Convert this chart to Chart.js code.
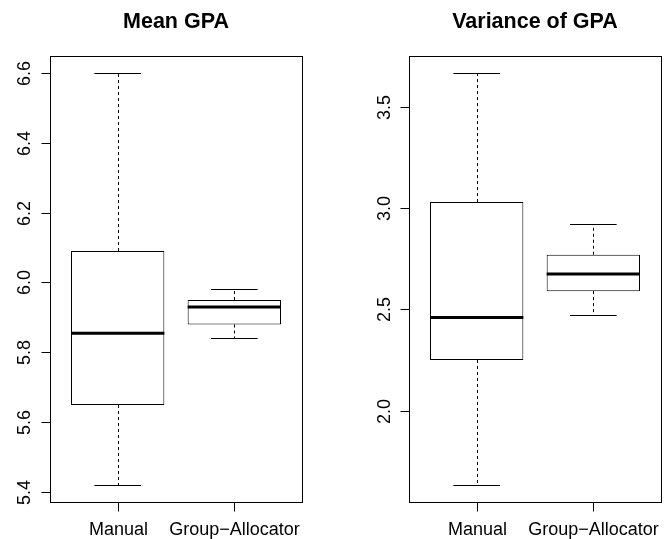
<!DOCTYPE html>
<html>
<head>
<meta charset="utf-8">
<script src="https://cdn.jsdelivr.net/npm/chart.js@4.4.1/dist/chart.umd.min.js"></script>
<style>
  body { margin: 0; background: #fff; }
  .panel { position: absolute; top: 0; height: 539px; }
</style>
</head>
<body>
<div class="panel" style="left:0;width:332px"><canvas id="meanChart"></canvas></div>
<div class="panel" style="left:332px;width:333px"><canvas id="varChart"></canvas></div>
<script>
const groups = ['Manual', 'Group\u2212Allocator'];
const xTicks = [1, 2];

// Mean GPA boxplot stats
const meanMin = [5.42, 5.84];
const meanQ1 = [5.65, 5.88];
const meanMedian = [5.855, 5.93];
const meanQ3 = [6.09, 5.95];
const meanMax = [6.6, 5.98];
const meanTicks = [5.4, 5.6, 5.8, 6.0, 6.2, 6.4, 6.6];

// Variance of GPA boxplot stats
const varMin = [1.63, 2.47];
const varQ1 = [2.25, 2.59];
const varMedian = [2.46, 2.675];
const varQ3 = [3.03, 2.77];
const varMax = [3.67, 2.92];
const varTicks = [2.0, 2.5, 3.0, 3.5];

const FONT = '"Liberation Sans", Arial, Helvetica, sans-serif';

// R-like range: data range padded by 4%
const padRange = (lo, hi) => {
  const d = (hi - lo) * 0.04;
  return [lo - d, hi + d];
};

const rBoxPlot = {
  id: 'rBoxPlot',
  afterDatasetsDraw(chart, args, opts) {
    const ctx = chart.ctx;
    const xs = chart.scales.x, ys = chart.scales.y;
    const area = chart.chartArea;
    const s = opts.stats;
    ctx.save();
    ctx.strokeStyle = '#000';
    ctx.lineWidth = 1;

    for (let i = 0; i < groups.length; i++) {
      const cx = Math.round(xs.getPixelForValue(i + 1)) + 0.5;
      const capL = xs.getPixelForValue(i + 1 - 0.2);
      const capR = xs.getPixelForValue(i + 1 + 0.2);
      const boxL = xs.getPixelForValue(i + 1 - 0.4);
      const boxR = xs.getPixelForValue(i + 1 + 0.4);
      const yMin = Math.round(ys.getPixelForValue(s.min[i])) + 0.5;
      const yMax = Math.round(ys.getPixelForValue(s.max[i])) + 0.5;
      const yQ1 = ys.getPixelForValue(s.q1[i]);
      const yQ3 = ys.getPixelForValue(s.q3[i]);
      const yMed = ys.getPixelForValue(s.median[i]);

      // whiskers
      ctx.setLineDash([3, 3]);
      ctx.beginPath();
      ctx.moveTo(cx, yQ3); ctx.lineTo(cx, yMax);
      ctx.moveTo(cx, yQ1); ctx.lineTo(cx, yMin);
      ctx.stroke();
      ctx.setLineDash([]);

      // caps
      ctx.beginPath();
      ctx.moveTo(capL, yMax); ctx.lineTo(capR, yMax);
      ctx.moveTo(capL, yMin); ctx.lineTo(capR, yMin);
      ctx.stroke();

      // median
      ctx.lineWidth = 3;
      ctx.beginPath();
      ctx.moveTo(boxL, yMed); ctx.lineTo(boxR, yMed);
      ctx.stroke();
      ctx.lineWidth = 1;
    }

    // frame
    const L = Math.round(area.left) + 0.5, R = Math.round(area.right) + 0.5;
    const T = Math.round(area.top) + 0.5, B = Math.round(area.bottom) + 0.5;
    ctx.strokeRect(L, T, R - L, B - T);

    // y ticks + rotated labels
    ctx.fillStyle = '#000';
    ctx.font = '18px ' + FONT;
    opts.ticks.forEach(v => {
      const y = Math.round(ys.getPixelForValue(v)) + 0.5;
      ctx.beginPath();
      ctx.moveTo(L, y); ctx.lineTo(L - 9, y);
      ctx.stroke();
      ctx.save();
      ctx.translate(L - opts.labelGap, y);
      ctx.rotate(-Math.PI / 2);
      ctx.textAlign = 'center';
      ctx.textBaseline = 'alphabetic';
      ctx.fillText(v.toFixed(1), 0, 0);
      ctx.restore();
    });

    // x ticks + labels
    xTicks.forEach((v, i) => {
      const x = Math.round(xs.getPixelForValue(v)) + 0.5;
      ctx.beginPath();
      ctx.moveTo(x, B); ctx.lineTo(x, B + 9);
      ctx.stroke();
      ctx.textAlign = 'center';
      ctx.textBaseline = 'alphabetic';
      ctx.fillText(groups[i], x, 535);
    });

    // title
    ctx.font = 'bold 21.5px ' + FONT;
    ctx.textAlign = 'center';
    ctx.fillText(opts.title, (area.left + area.right) / 2, 28);
    ctx.restore();
  }
};

function makeBoxChart(id, title, st, ticks, padding, labelGap) {
  const [yLo, yHi] = padRange(Math.min(...st.min), Math.max(...st.max));
  return new Chart(document.getElementById(id), {
    type: 'bar',
    data: {
      datasets: [{
        data: groups.map((g, i) => ({ x: i + 1, y: [st.q1[i], st.q3[i]] })),
        backgroundColor: '#fff',
        borderColor: '#000',
        borderWidth: 1,
        borderSkipped: false,
        barPercentage: 0.8,
        categoryPercentage: 1
      }]
    },
    options: {
      responsive: true,
      maintainAspectRatio: false,
      animation: false,
      layout: { padding },
      scales: {
        x: {
          type: 'linear', min: 0.42, max: 2.58, display: false,
          offset: false, bounds: 'data', grid: { offset: false },
          afterBuildTicks: sc => { sc.ticks = xTicks.map(v => ({ value: v })); }
        },
        y: { type: 'linear', min: yLo, max: yHi, display: false }
      },
      plugins: {
        legend: { display: false },
        tooltip: { enabled: false },
        rBoxPlot: { stats: st, ticks, title, labelGap }
      }
    },
    plugins: [rBoxPlot]
  });
}

makeBoxChart('meanChart', 'Mean GPA',
  { min: meanMin, q1: meanQ1, median: meanMedian, q3: meanQ3, max: meanMax },
  meanTicks, { left: 50, right: 30, top: 56, bottom: 37 }, 21);

makeBoxChart('varChart', 'Variance of GPA',
  { min: varMin, q1: varQ1, median: varMedian, q3: varQ3, max: varMax },
  varTicks, { left: 77, right: 4, top: 56, bottom: 37 }, 20);
</script>
</body>
</html>
